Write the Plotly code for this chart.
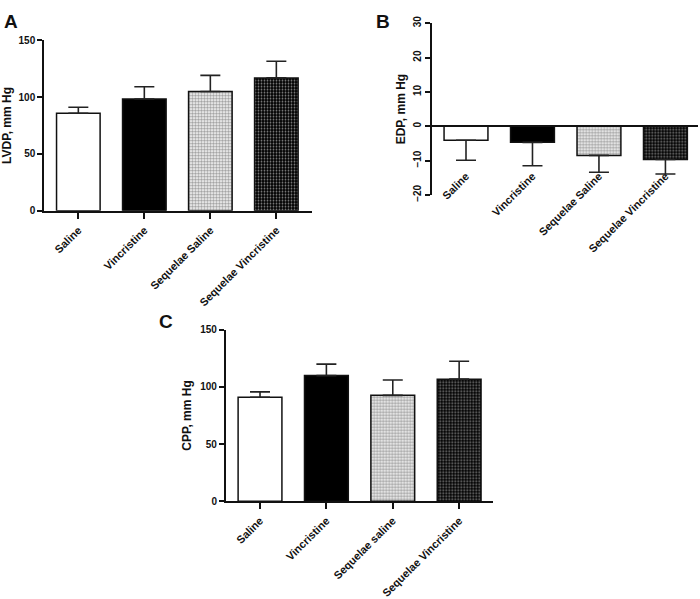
import plotly.graph_objects as go

# ---- data ----
cats_a = ["Saline", "Vincristine", "Sequelae Saline", "Sequelae Vincristine"]
lvdp = [85.7, 98.3, 104.8, 116.8]
lvdp_err = [5.3, 10.7, 14.2, 14.6]

cats_b = ["Saline", "Vincristine", "Sequelae Saline", "Sequelae Vincristine"]
edp = [-4.1, -4.7, -8.5, -9.7]
edp_err = [5.8, 6.8, 4.9, 4.2]

cats_c = ["Saline", "Vincristine", "Sequelae saline", "Sequelae Vincristine"]
cpp = [90.9, 109.9, 92.6, 106.8]
cpp_err = [4.8, 10.0, 13.4, 15.6]

yticks_a = [0, 50, 100, 150]
yticks_b = [-20, -10, 0, 10, 20, 30]
yticks_c = [0, 50, 100, 150]

W, H = 700, 599
FONT = "Liberation Sans, Arial, sans-serif"

def px_x(a, b):
    return [a / W, b / W]

def px_y(top, bottom):
    return [1 - bottom / H, 1 - top / H]

base = ["white", "black", "white", "#000000"]
fg = ["white", "black", "#3a3a3a", "#8f8f8f"]
shapes_p = ["", "", ".", "."]
solid = [0.5, 0.5, 0.6, 0.3]

def bar_trace(x, y, err, xa, ya, down=False):
    if down:
        ey = dict(type="data", symmetric=False, array=[0] * len(err), arrayminus=err,
                  color="#222", thickness=1.6, width=10)
    else:
        ey = dict(type="data", symmetric=False, array=err, arrayminus=[0] * len(err),
                  color="#222", thickness=1.6, width=10)
    return go.Bar(
        x=x, y=y, xaxis=xa, yaxis=ya, width=0.66,
        marker=dict(color=base, line=dict(color="#111", width=1.5),
                    pattern=dict(shape=shapes_p, fgcolor=fg,
                                 size=3, solidity=solid, fillmode="overlay")),
        error_y=ey, showlegend=False, hoverinfo="x+y",
    )

fig = go.Figure()
fig.add_trace(bar_trace(cats_a, lvdp, lvdp_err, "x", "y"))
fig.add_trace(bar_trace(cats_b, edp, edp_err, "x2", "y2", down=True))
fig.add_trace(bar_trace(cats_c, cpp, cpp_err, "x3", "y3"))

tickf = dict(family=FONT, size=10, color="#111", weight="bold")
xtickf = dict(family=FONT, size=11, color="#111", weight="bold")
titlef = dict(family=FONT, size=12, color="#111", weight="bold")

common_x = dict(type="category", showline=True, linecolor="#111", linewidth=1.5,
                ticks="outside", ticklen=6, tickwidth=1.5, tickcolor="#111",
                tickangle=-45, tickfont=xtickf, showgrid=False, zeroline=False,
                ticklabelstandoff=1)
common_y = dict(showline=True, linecolor="#111", linewidth=1.5,
                ticks="outside", ticklen=5, tickwidth=1.5, tickcolor="#111",
                tickfont=tickf, showgrid=False, zeroline=False)

fig.update_layout(
    width=W, height=H, autosize=False,
    margin=dict(l=0, r=0, t=0, b=0),
    paper_bgcolor="white", plot_bgcolor="white",
    font=dict(family=FONT, color="#111"),
    bargap=0.3,
    xaxis=dict(common_x, domain=px_x(44, 312), range=[-0.52, 3.54], anchor="y"),
    yaxis=dict(common_y, domain=px_y(34, 209), range=[0, 150], tickvals=yticks_a,
               anchor="x", title=dict(text="LVDP, mm Hg", font=titlef, standoff=6)),
    xaxis2=dict(common_x, domain=px_x(431.7, 698), range=[-0.516, 3.49],
                anchor="y2", showline=False, ticks="", ticklabelstandoff=-28),
    yaxis2=dict(common_y, domain=px_y(16.7, 192.7), range=[-20, 30], tickvals=yticks_b,
                tickangle=-90, anchor="x2", zeroline=True, zerolinecolor="#111",
                zerolinewidth=1.5,
                title=dict(text="EDP, mm Hg", font=titlef, standoff=4)),
    xaxis3=dict(common_x, domain=px_x(225.7, 493), range=[-0.517, 3.51], anchor="y3"),
    yaxis3=dict(common_y, domain=px_y(331, 507), range=[0, 150], tickvals=yticks_c,
                anchor="x3", title=dict(text="CPP, mm Hg", font=titlef, standoff=6)),
)

letterf = dict(family=FONT, size=19, color="#111", weight="bold")
for txt, x, y in [("A", 2, 2), ("B", 374, 2), ("C", 157, 310)]:
    fig.add_annotation(text=txt, x=x / W, y=1 - y / H, xref="paper", yref="paper",
                       xanchor="left", yanchor="top", showarrow=False, font=letterf)

fig.write_html("out.html", config={"displayModeBar": False},
               post_script="document.body.style.margin='0';")
